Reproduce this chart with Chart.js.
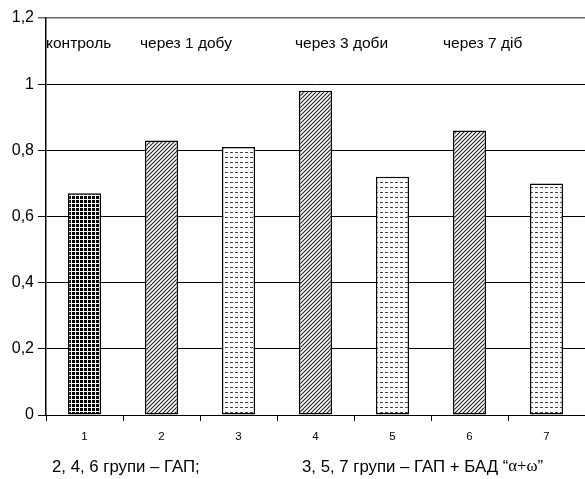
<!DOCTYPE html>
<html>
<head>
<meta charset="utf-8">
<script src="https://cdn.jsdelivr.net/npm/chart.js@4"></script>
<style>
  html, body { margin: 0; padding: 0; background: #fff; }
  #wrap { width: 585px; height: 479px; position: relative; }
</style>
</head>
<body>
<div id="wrap"><canvas id="chart"></canvas></div>
<script>
// Data
const categories = ['1', '2', '3', '4', '5', '6', '7'];
const values = [0.67, 0.83, 0.81, 0.98, 0.72, 0.86, 0.70];
const yTicks = [0, 0.2, 0.4, 0.6, 0.8, 1, 1.2];
const periodLabels = ['контроль', 'через 1 добу', 'через 3 доби', 'через 7 діб'];
const legendLeft = '2, 4, 6 групи – ГАП;';
const legendRight = ['3, 5, 7 групи – ГАП + БАД “', 'α+ω', '”'];

// Fill patterns
function makePattern(size, draw) {
  const c = document.createElement('canvas');
  c.width = size; c.height = size;
  const g = c.getContext('2d');
  g.fillStyle = '#fff';
  g.fillRect(0, 0, size, size);
  draw(g);
  return g.createPattern(c, 'repeat');
}

const dotsPattern = makePattern(4, g => {
  g.fillStyle = '#000';
  g.fillRect(0, 0, 3, 3);
});

const hatchPattern = makePattern(4, g => {
  g.strokeStyle = '#222';
  g.lineWidth = 1.1;
  g.beginPath();
  g.moveTo(-1, 5); g.lineTo(5, -1);
  g.moveTo(-1, 1); g.lineTo(1, -1);
  g.moveTo(3, 5); g.lineTo(5, 3);
  g.stroke();
});

const dashPattern = makePattern(5, g => {
  g.fillStyle = '#444';
  g.fillRect(0, 2, 3, 1);
});

const fills = [dotsPattern, hatchPattern, dashPattern, hatchPattern, dashPattern, hatchPattern, dashPattern];

// Annotation text: periods at top, group legend at bottom
const textPlugin = {
  id: 'texts',
  afterDraw(chart) {
    const ctx = chart.ctx;
    const area = chart.chartArea;
    ctx.save();
    ctx.fillStyle = '#000';
    ctx.textBaseline = 'middle';
    ctx.textAlign = 'left';
    ctx.font = '15.5px "Liberation Sans", Arial, sans-serif';
    const xs = [area.left, 140, 295, 443];
    periodLabels.forEach((t, i) => ctx.fillText(t, xs[i], 44));

    const sans = '16.8px "Liberation Sans", Arial, sans-serif';
    ctx.font = sans;
    ctx.fillText(legendLeft, 52, 467);
    let x = 302;
    ctx.fillText(legendRight[0], x, 467);
    x += ctx.measureText(legendRight[0]).width;
    ctx.font = '16.8px "Liberation Serif", "Times New Roman", serif';
    ctx.fillText(legendRight[1], x, 467);
    x += ctx.measureText(legendRight[1]).width;
    ctx.font = sans;
    ctx.fillText(legendRight[2], x, 467);
    ctx.restore();
  }
};

new Chart(document.getElementById('chart'), {
  type: 'bar',
  data: {
    labels: categories,
    datasets: [{
      data: values,
      backgroundColor: fills,
      borderColor: '#000',
      borderWidth: 1.5,
      borderSkipped: false,
      barPercentage: 0.43,
      categoryPercentage: 1
    }]
  },
  options: {
    responsive: true,
    maintainAspectRatio: false,
    animation: false,
    devicePixelRatio: 1,
    layout: { padding: { top: 18, right: 0, left: 0, bottom: 0 } },
    plugins: {
      legend: { display: false },
      tooltip: { enabled: false }
    },
    scales: {
      x: {
        offset: true,
        afterFit(scale) { scale.height = 64; },
        grid: {
          offset: true,
          drawOnChartArea: false,
          drawTicks: true,
          tickLength: 6,
          color: '#000'
        },
        border: { display: true, color: '#000', width: 1 },
        ticks: {
          color: '#000',
          padding: 9,
          font: { family: '"Liberation Sans", Arial, sans-serif', size: 11.5 }
        }
      },
      y: {
        min: 0,
        max: 1.2,
        afterFit(scale) { scale.width = 46; },
        afterBuildTicks(scale) { scale.ticks = yTicks.map(v => ({ value: v })); },
        grid: {
          color: ctx => (ctx.tick && ctx.tick.value === 1.2 ? '#666' : '#000'),
          lineWidth: ctx => (ctx.tick && ctx.tick.value === 1.2 ? 1.5 : 1),
          tickLength: 8
        },
        border: { display: true, color: '#000', width: 1.5 },
        ticks: {
          color: '#000',
          padding: 4,
          font: { family: '"Liberation Sans", Arial, sans-serif', size: 16 },
          callback: v => String(Math.round(v * 10) / 10).replace('.', ',')
        }
      }
    }
  },
  plugins: [textPlugin]
});
</script>
</body>
</html>
